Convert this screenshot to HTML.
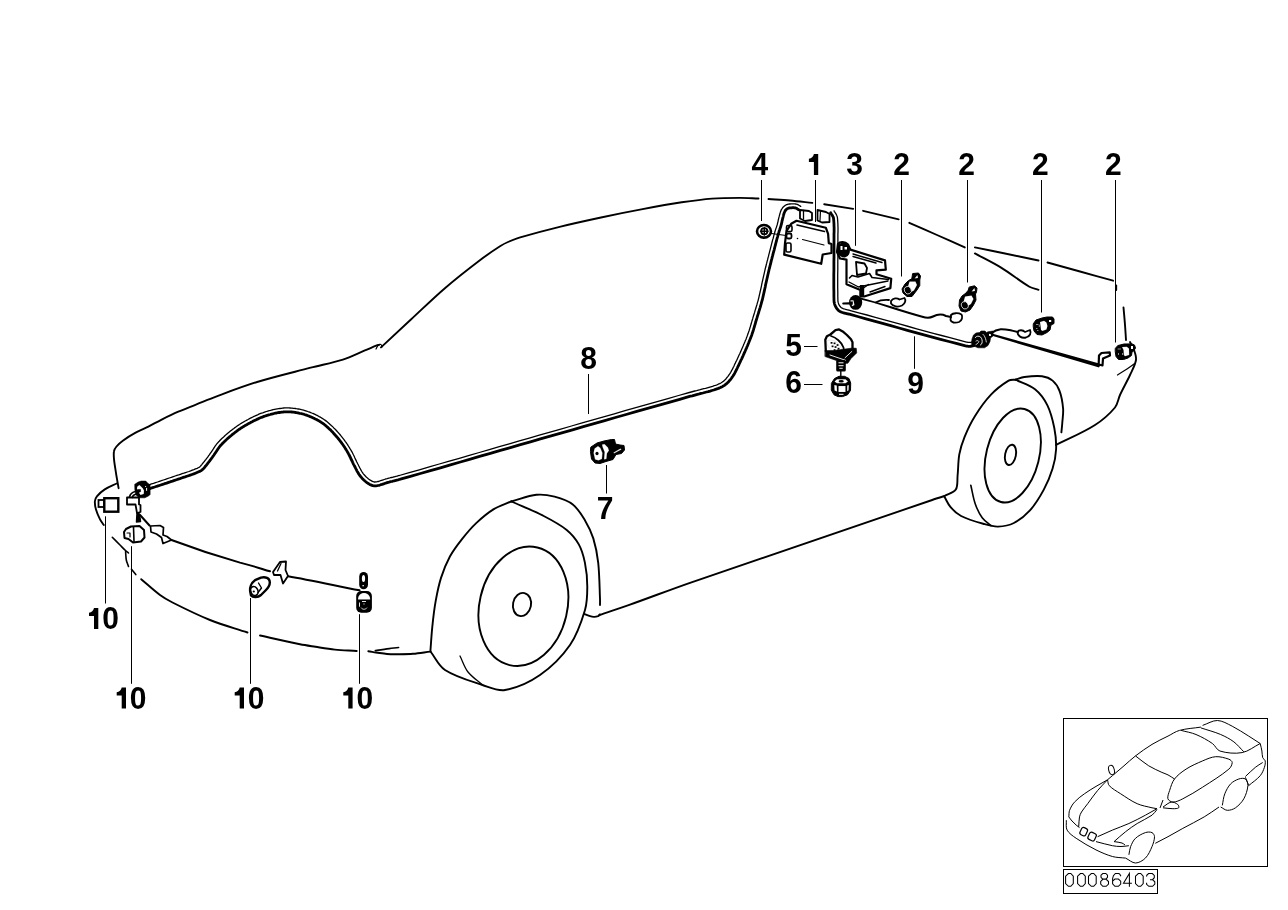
<!DOCTYPE html><html><head><meta charset="utf-8"><style>html,body{margin:0;padding:0;background:#fff;}svg{display:block;will-change:transform}</style></head><body>
<svg width="1288" height="910" viewBox="0 0 1288 910">
<rect width="1288" height="910" fill="#fff"/>
<g fill="none" stroke="#000" stroke-linecap="round" stroke-linejoin="round">
<path d="M118.6 488.2 C117.7 482.9 116.7 477.6 115.9 472.3 C115.2 467.9 114.4 463.6 114.0 459.2 C113.8 456.6 113.5 453.7 114.0 451.2 C114.3 449.5 115.4 447.8 116.5 446.5 C118.3 444.3 120.5 442.4 122.8 440.7 C126.9 437.7 131.2 435.0 135.6 432.6 C139.7 430.3 144.2 428.7 148.4 426.6 C152.7 424.4 156.9 422.0 161.2 419.8 C166.8 417.0 172.5 414.2 178.3 411.7 C183.9 409.2 189.7 407.1 195.4 404.8 C202.5 402.0 209.5 398.9 216.7 396.3 C230.1 391.3 243.4 386.2 257.1 382.0 C274.8 376.6 292.8 372.4 310.7 367.7 C321.4 364.9 332.4 362.9 342.9 359.6 C350.2 357.3 357.2 353.7 364.3 350.7 C368.5 349.0 372.6 347.1 376.8 345.4 C377.5 345.1 378.3 345.0 379.0 344.8" stroke-width="1.9"/>
<path d="M376.0 349.0 C376.7 347.8 377.1 346.3 378.0 345.5 C378.7 344.8 380.3 344.2 381.0 344.5 C381.6 344.7 381.7 346.2 382.0 347.0" stroke-width="1.2"/>
<path d="M381.0 347.4 C391.1 338.0 401.1 328.6 411.2 319.3 C422.6 308.7 433.7 297.8 445.5 287.7 C456.6 278.1 468.2 269.1 479.9 260.2 C486.4 255.3 493.2 250.7 500.0 246.3 C502.5 244.7 505.2 243.2 508.0 242.0 C512.0 240.3 516.0 238.6 520.2 237.4 C533.6 233.5 547.1 229.9 560.6 226.6 C574.0 223.3 587.5 220.4 601.0 217.5 C614.4 214.6 627.8 211.9 641.3 209.4 C654.7 206.9 668.2 204.4 681.7 202.3 C691.8 200.8 701.9 199.4 712.0 198.6 C721.3 197.9 730.7 197.9 740.0 197.9 C746.2 197.9 752.3 198.3 758.5 198.5" stroke-width="1.9"/>
<path d="M768.5 199.0 C775.7 199.5 782.8 199.9 790.0 200.5 C797.4 201.2 804.9 202.1 812.3 202.9" stroke-width="1.9"/>
<path d="M824.2 204.2 L853.2 208.9" stroke-width="1.9"/>
<path d="M863.1 210.8 L898.7 219.4" stroke-width="1.9"/>
<path d="M909.3 222.8 C918.5 226.9 927.8 230.9 937.0 235.0 C946.3 239.1 955.5 243.3 964.8 247.4" stroke-width="1.9"/>
<path d="M974.9 247.4 C984.9 249.4 995.0 251.4 1005.0 253.5 C1016.2 255.8 1027.3 258.2 1038.5 260.5" stroke-width="1.9"/>
<path d="M1047.5 262.5 C1058.3 265.5 1069.2 268.5 1080.0 271.5 C1091.0 274.6 1102.1 277.6 1113.1 280.7" stroke-width="1.9"/>
<path d="M1116.2 285.5 L1116.2 290.0" stroke-width="1.9"/>
<path d="M974.9 253.4 C983.6 258.1 992.6 262.4 1001.1 267.6 C1010.8 273.5 1019.7 281.0 1029.4 286.8 C1032.1 288.4 1035.5 288.8 1038.5 289.8" stroke-width="1.9"/>
<path d="M1123.5 307.5 C1124.0 313.3 1124.6 319.2 1125.0 325.0 C1125.4 330.0 1125.7 335.0 1126.0 340.0" stroke-width="1.9"/>
<path d="M116.7 483.5 C112.7 485.5 108.5 487.0 104.8 489.4 C101.9 491.3 99.1 493.7 96.9 496.3 C95.8 497.6 95.0 499.6 94.9 501.3 C94.7 503.9 95.2 506.7 95.9 509.2 C96.9 512.6 98.3 515.9 99.9 519.1 C100.9 521.2 102.5 523.0 103.8 525.0" stroke-width="1.9"/>
<path d="M112.3 537.3 C114.9 539.9 117.4 542.4 120.0 545.0 C121.8 546.8 123.6 548.7 125.5 550.5 C126.4 551.4 127.5 552.2 128.5 553.0" stroke-width="1.6"/>
<path d="M125.6 551.5 C125.8 554.3 125.8 557.2 126.3 560.0 C126.7 562.2 127.8 564.3 128.5 566.5" stroke-width="1.6"/>
<path d="M131.5 569.2 L135.8 574.6" stroke-width="1.6"/>
<path d="M141.2 579.2 C147.5 584.5 153.5 590.1 160.0 595.0 C163.9 597.9 168.2 600.3 172.5 602.5 C184.8 608.7 197.2 614.9 210.0 620.0 C222.2 624.9 235.0 628.3 247.5 632.5" stroke-width="1.9"/>
<path d="M260.0 635.5 C273.3 638.4 286.6 641.6 300.0 644.3 C305.1 645.3 310.3 646.0 315.5 646.8 C322.0 647.8 328.4 648.9 334.9 649.6 C342.1 650.3 349.4 650.5 356.7 651.0" stroke-width="1.9"/>
<path d="M368.3 651.2 C370.9 651.6 373.4 652.1 376.0 652.5 C379.7 653.0 383.3 653.7 387.0 654.0 C391.3 654.3 395.7 654.2 400.0 654.2 C404.3 654.2 408.7 654.2 413.0 653.8 C418.9 653.3 424.7 652.3 430.5 651.6" stroke-width="1.9"/>
<path d="M375.3 650.6 C380.0 649.9 384.6 649.2 389.3 648.6 C392.4 648.2 395.5 647.9 398.6 647.5" stroke-width="1.6"/>
<path d="M430.5 651.0 C430.5 650.6 430.5 650.1 430.5 649.7 C431.1 642.1 431.5 634.4 432.3 626.8 C433.2 618.0 434.2 609.1 435.8 600.4 C437.2 592.7 438.7 585.0 441.1 577.6 C443.4 570.4 446.3 563.2 449.9 556.5 C453.3 550.3 457.8 544.5 462.2 538.9 C466.5 533.4 471.1 527.9 476.2 523.1 C481.6 518.0 487.5 513.0 493.8 509.1 C499.2 505.8 505.5 503.9 511.3 501.3" stroke-width="1.9"/>
<path d="M511.3 501.5 C521.7 506.1 532.5 510.2 542.6 515.4 C550.9 519.7 559.5 524.1 566.7 529.9 C571.5 533.8 575.8 539.0 578.8 544.4 C581.9 549.9 583.6 556.4 584.9 562.6 C586.5 570.5 587.3 578.7 587.3 586.7 C587.3 594.5 587.2 602.6 585.0 610.0 C581.4 622.0 577.1 634.8 570.0 645.0 C562.1 656.4 551.4 667.1 540.0 675.0 C529.8 682.1 516.9 687.9 505.0 690.0 C497.8 691.3 489.8 687.4 482.5 685.0 C469.8 680.8 456.0 677.1 445.0 670.0 C438.6 665.9 435.3 657.7 430.5 651.5" stroke-width="1.9"/>
<path d="M460.0 656.0 C462.7 661.3 464.4 667.4 468.0 672.0 C471.9 677.0 477.7 680.7 482.5 685.0" stroke-width="1.3"/>
<path d="M511.3 501.5 C519.7 499.3 528.0 495.7 536.5 494.8 C542.4 494.1 548.8 495.2 554.6 496.7 C560.9 498.4 567.8 500.6 572.8 504.5 C577.9 508.4 581.5 514.6 584.9 520.2 C588.3 525.9 591.3 532.1 593.3 538.4 C595.7 546.2 597.3 554.4 598.2 562.6 C599.5 574.6 599.5 586.7 600.0 598.8 C600.1 600.9 600.0 602.9 600.0 605.0" stroke-width="1.9"/>
<path d="M584.0 613.9 C585.5 614.5 587.0 615.2 588.6 615.7 C590.3 616.2 592.1 616.8 593.8 616.9 C595.2 617.0 596.7 616.7 598.0 616.2 C598.7 615.9 599.2 615.1 599.8 614.5" stroke-width="1.9"/>
<ellipse cx="523.4" cy="606.3" rx="43.9" ry="60.4" transform="rotate(13.3 523.4 606.3)" stroke-width="1.9"/>
<ellipse cx="522" cy="604.5" rx="9" ry="11.7" transform="rotate(12 522 604.5)" stroke-width="1.9"/>
<path d="M599.5 615.0 C609.7 611.5 619.9 608.2 630.0 604.6 C650.0 597.5 669.9 589.8 690.0 582.8 C770.6 554.9 851.4 527.5 932.2 500.0 C936.3 498.6 940.5 497.3 944.6 496.0" stroke-width="1.9"/>
<path d="M944.4 496.0 C948.2 493.9 953.7 492.9 955.8 489.6 C958.1 486.0 957.1 480.2 957.6 475.5 C958.3 468.5 958.1 461.3 959.3 454.4 C960.4 448.4 962.3 442.4 964.6 436.8 C967.6 429.5 971.0 422.3 975.2 415.7 C979.8 408.3 985.0 400.9 991.0 394.6 C996.1 389.2 1002.4 384.4 1008.6 380.6 C1010.6 379.4 1013.3 380.0 1015.6 379.7" stroke-width="1.9"/>
<path d="M1015.6 379.7 C1018.5 378.8 1021.4 377.4 1024.4 377.0 C1030.2 376.2 1036.3 375.5 1042.0 376.2 C1045.7 376.7 1049.8 378.2 1052.6 380.6 C1055.7 383.2 1058.2 387.2 1059.6 391.1 C1061.7 396.6 1062.6 402.8 1063.1 408.7 C1063.5 413.4 1062.6 418.1 1062.3 422.8 C1062.1 426.0 1061.7 429.2 1061.4 432.4" stroke-width="1.9"/>
<path d="M1015.6 379.7 C1022.1 382.9 1029.5 384.9 1035.0 389.3 C1040.1 393.4 1044.4 399.3 1047.3 405.2 C1050.8 412.2 1052.7 420.2 1054.3 428.0 C1055.7 434.9 1056.4 442.2 1056.1 449.2 C1055.8 455.7 1054.5 462.3 1052.6 468.5 C1050.4 475.7 1047.4 482.9 1043.8 489.6 C1039.8 497.0 1035.3 504.5 1029.7 510.7 C1025.3 515.6 1019.7 520.1 1013.9 523.0 C1009.2 525.4 1003.3 526.4 998.0 526.6 C993.4 526.8 988.5 525.3 984.0 524.0 C976.2 521.8 968.2 519.6 961.1 516.0 C957.1 514.0 953.5 510.6 950.6 507.2 C948.0 504.2 946.5 500.2 944.4 496.7" stroke-width="1.9"/>
<path d="M970.8 485.2 C972.3 491.4 973.1 497.8 975.2 503.7 C976.9 508.6 979.2 513.6 982.2 517.8 C984.5 520.9 988.1 523.1 991.0 525.7" stroke-width="1.6"/>
<ellipse cx="1012.7" cy="455.5" rx="26.4" ry="48" transform="rotate(14.2 1012.7 455.5)" stroke-width="1.9"/>
<ellipse cx="1010.5" cy="454.9" rx="5.4" ry="10.3" transform="rotate(11 1010.5 454.9)" stroke-width="1.9"/>
<path d="M1056.0 445.0 C1069.0 438.3 1082.8 432.8 1095.0 425.0 C1102.4 420.3 1109.5 414.1 1115.0 407.5 C1117.8 404.1 1118.1 399.1 1120.0 395.0 C1123.1 388.2 1126.9 381.8 1130.0 375.0 C1132.2 370.1 1135.2 365.1 1136.0 360.0 C1136.5 356.8 1135.1 353.2 1134.0 350.0 C1133.1 347.2 1131.3 344.7 1130.0 342.0" stroke-width="1.9"/>
<path d="M1117.5 375.0 C1120.7 373.0 1123.9 371.1 1127.0 369.0 C1129.4 367.4 1131.7 365.7 1134.0 364.0" stroke-width="1.2"/>
</g>
<g fill="none" stroke="#000" stroke-linecap="round" stroke-linejoin="round">
<path d="M147.5 485.2 L149.5 484.6 L151.5 483.9 L153.5 483.3 L155.5 482.6 L157.5 482.0 L159.4 481.3 L161.4 480.7 L163.4 480.0 L165.4 479.4 L167.3 478.7 L169.3 478.0 L171.3 477.4 L173.3 476.7 L175.2 476.0 L176.9 475.4 L178.7 474.9 L180.4 474.3 L182.1 473.7 L183.8 473.2 L185.6 472.6 L187.3 472.0 L188.9 471.5 L190.6 470.9 L192.3 470.2 L193.9 469.6 L195.5 468.9 L197.1 468.3 L198.7 467.5 L199.0 467.4 L199.3 467.2 L199.6 467.0 L199.9 466.7 L200.2 466.4 L200.5 466.1 L200.8 465.8 L201.1 465.4 L201.4 465.0 L201.8 464.6 L202.1 464.2 L202.4 463.7 L202.8 463.3 L203.1 462.9 L203.7 462.2 L204.3 461.5 L204.9 460.7 L205.4 460.0 L206.0 459.3 L206.5 458.5 L207.1 457.8 L207.7 457.0 L208.2 456.3 L208.7 455.5 L209.3 454.8 L209.9 454.0 L210.4 453.2 L211.0 452.5 L211.4 451.8 L211.9 451.1 L212.4 450.4 L212.9 449.7 L213.3 449.0 L213.8 448.2 L214.3 447.5 L214.8 446.7 L215.3 445.9 L215.9 445.2 L216.4 444.4 L217.0 443.7 L217.6 443.0 L218.2 442.3 L219.2 441.3 L220.1 440.3 L221.1 439.3 L222.1 438.3 L223.1 437.4 L224.1 436.5 L225.1 435.5 L226.2 434.6 L227.2 433.7 L228.3 432.8 L229.3 432.0 L230.4 431.1 L231.5 430.2 L232.5 429.4 L233.5 428.7 L234.5 427.9 L235.5 427.2 L236.5 426.5 L237.5 425.8 L238.5 425.1 L239.5 424.5 L240.5 423.8 L241.6 423.1 L242.6 422.5 L243.7 421.9 L244.7 421.3 L245.8 420.7 L246.9 420.1 L248.0 419.5 L249.2 418.8 L250.4 418.2 L251.6 417.6 L252.8 417.0 L254.0 416.4 L255.2 415.9 L256.4 415.3 L257.6 414.8 L258.9 414.2 L260.1 413.7 L261.4 413.2 L262.7 412.8 L263.9 412.3 L265.2 411.9 L266.5 411.5 L267.8 411.1 L269.2 410.7 L270.5 410.4 L271.8 410.0 L273.2 409.7 L274.5 409.4 L275.9 409.1 L277.2 408.9 L278.6 408.7 L279.9 408.5 L281.3 408.3 L282.6 408.1 L283.7 408.0 L284.8 407.9 L285.8 407.9 L286.9 407.9 L287.9 407.9 L289.0 407.9 L290.1 408.0 L291.1 408.1 L292.2 408.1 L293.2 408.3 L294.2 408.4 L295.3 408.5 L296.3 408.7 L297.3 408.8 L298.3 409.0 L299.4 409.2 L300.4 409.4 L301.5 409.7 L302.5 409.9 L303.6 410.2 L304.6 410.5 L305.7 410.8 L306.7 411.1 L307.7 411.5 L308.7 411.8 L309.7 412.2 L310.7 412.6 L311.7 413.0 L312.8 413.4 L313.9 413.9 L315.0 414.4 L316.0 414.9 L317.1 415.4 L318.2 416.0 L319.2 416.6 L320.3 417.1 L321.3 417.7 L322.3 418.4 L323.3 419.0 L324.3 419.7 L325.3 420.4 L326.3 421.1 L327.4 422.0 L328.5 422.9 L329.6 423.9 L330.7 424.9 L331.8 425.9 L332.8 426.9 L333.8 427.9 L334.9 428.9 L335.9 430.0 L336.8 431.0 L337.8 432.1 L338.8 433.2 L339.7 434.3 L340.6 435.3 L341.4 436.3 L342.2 437.3 L343.0 438.3 L343.8 439.3 L344.5 440.3 L345.2 441.3 L346.0 442.3 L346.7 443.4 L347.4 444.4 L348.0 445.4 L348.7 446.5 L349.4 447.6 L350.0 448.6 L350.7 449.7 L351.2 450.7 L351.8 451.7 L352.4 452.7 L352.9 453.7 L353.4 454.8 L353.9 455.8 L354.4 456.8 L354.8 457.8 L355.3 458.9 L355.8 459.9 L356.3 460.9 L356.7 461.8 L357.2 462.8 L357.7 463.8 L358.1 464.5 L358.5 465.2 L358.8 466.0 L359.2 466.7 L359.6 467.4 L359.9 468.1 L360.3 468.8 L360.7 469.5 L361.0 470.2 L361.4 470.8 L361.8 471.5 L362.2 472.1 L362.6 472.7 L363.0 473.3 L363.4 473.8 L363.8 474.3 L364.2 474.8 L364.7 475.3 L365.1 475.8 L365.6 476.3 L366.0 476.7 L366.5 477.2 L367.0 477.6 L367.5 478.1 L368.0 478.5 L368.5 478.9 L369.0 479.3 L369.5 479.6 L369.9 479.9 L370.3 480.2 L370.7 480.4 L371.2 480.7 L371.6 480.9 L372.0 481.2 L372.4 481.4 L372.9 481.5 L373.3 481.7 L373.7 481.8 L374.0 481.9 L374.4 482.0 L374.7 482.0 L375.0 482.0 L375.7 481.9 L376.5 481.8 L377.3 481.7 L378.1 481.5 L378.9 481.3 L379.7 481.0 L380.6 480.7 L381.5 480.4 L382.4 480.1 L383.3 479.8 L384.2 479.5 L385.2 479.2 L386.1 478.9 L387.1 478.6 L388.0 478.3 L388.9 478.1 L389.8 477.9 L390.6 477.7 L391.5 477.5 L392.4 477.3 L393.3 477.0 L394.2 476.8 L395.0 476.6 L395.9 476.4 L396.8 476.2 L397.6 476.0 L398.5 475.7 L399.3 475.5 L409.3 472.6 L419.3 469.8 L429.3 466.9 L439.3 464.0 L449.3 461.1 L459.3 458.3 L469.3 455.4 L479.3 452.5 L489.3 449.6 L499.3 446.7 L509.3 443.8 L519.3 440.9 L529.3 438.1 L539.3 435.2 L550.1 432.1 L560.8 429.1 L571.5 426.0 L582.2 422.9 L592.9 419.9 L603.6 416.8 L614.3 413.8 L625.0 410.7 L635.8 407.7 L646.5 404.6 L657.2 401.6 L667.9 398.6 L678.6 395.5 L689.3 392.5 L691.2 392.0 L693.0 391.5 L694.8 391.0 L696.6 390.6 L698.4 390.1 L700.2 389.7 L702.0 389.2 L703.7 388.7 L705.5 388.3 L707.3 387.8 L709.0 387.3 L710.8 386.8 L712.5 386.3 L714.3 385.7 L714.9 385.5 L715.6 385.3 L716.3 385.0 L717.0 384.8 L717.6 384.5 L718.3 384.2 L718.9 383.9 L719.6 383.6 L720.2 383.3 L720.8 383.0 L721.3 382.7 L721.9 382.3 L722.4 382.0 L722.9 381.6 L723.5 381.2 L724.0 380.7 L724.5 380.2 L725.1 379.7 L725.6 379.2 L726.1 378.7 L726.5 378.1 L727.0 377.5 L727.5 376.9 L728.0 376.4 L728.4 375.7 L728.8 375.1 L729.3 374.5 L729.7 373.9 L730.2 373.1 L730.7 372.3 L731.2 371.4 L731.6 370.6 L732.1 369.7 L732.6 368.9 L733.0 368.0 L733.4 367.1 L733.9 366.2 L734.3 365.3 L734.7 364.3 L735.2 363.4 L735.6 362.5 L736.0 361.6 L736.6 360.5 L737.1 359.4 L737.6 358.3 L738.1 357.2 L738.6 356.1 L739.1 355.0 L739.7 353.8 L740.2 352.7 L740.7 351.6 L741.1 350.5 L741.6 349.4 L742.1 348.3 L742.6 347.2 L743.1 346.1 L743.5 345.1 L743.9 344.1 L744.3 343.2 L744.7 342.2 L745.1 341.3 L745.5 340.3 L745.9 339.4 L746.3 338.4 L746.6 337.4 L747.0 336.5 L747.4 335.5 L747.7 334.5 L748.1 333.6 L748.4 332.6 L748.7 331.7 L749.0 330.9 L749.3 330.0 L749.6 329.1 L749.8 328.3 L750.1 327.4 L750.4 326.5 L750.6 325.6 L750.9 324.7 L751.2 323.8 L751.4 322.9 L751.7 322.0 L751.9 321.1 L752.2 320.2 L752.7 318.7 L753.1 317.1 L753.6 315.5 L754.1 314.0 L754.6 312.4 L755.0 310.9 L755.5 309.3 L756.0 307.8 L756.4 306.2 L756.9 304.7 L757.3 303.1 L757.8 301.6 L758.2 300.1 L758.6 298.5 L759.0 296.8 L759.4 295.0 L759.8 293.3 L760.2 291.5 L760.6 289.8 L761.0 288.0 L761.4 286.3 L761.7 284.5 L762.1 282.7 L762.5 281.0 L762.9 279.2 L763.3 277.4 L763.7 275.6 L764.1 273.8 L764.5 272.1 L764.9 270.3 L765.3 268.5 L765.8 266.8 L766.2 265.0 L766.7 263.2 L767.1 261.4 L767.6 259.7 L768.0 257.9 L768.5 256.2 L768.9 254.4 L769.4 252.6 L769.8 250.9 L770.3 249.1 L770.6 247.9 L770.9 246.7 L771.2 245.6 L771.5 244.4 L771.8 243.2 L772.1 242.0 L772.4 240.8 L772.7 239.6 L773.1 238.5 L773.4 237.3 L773.7 236.1 L774.0 234.9 L774.4 233.7 L774.7 232.5 L774.9 231.9 L775.1 231.3 L775.2 230.7 L775.4 230.1 L775.6 229.5 L775.8 228.9 L776.0 228.3 L776.2 227.8 L776.4 227.2 L776.6 226.6 L776.8 226.0 L777.0 225.5 L777.1 224.9 L777.3 224.4 L777.4 223.8 L777.6 223.3 L777.7 222.7 L777.8 222.2 L778.0 221.6 L778.1 221.1 L778.2 220.5 L778.3 219.9 L778.5 219.3 L778.6 218.7 L778.7 218.2 L778.9 217.6 L779.0 217.0 L779.2 216.4 L779.3 215.9 L779.4 215.5 L779.5 215.0 L779.7 214.6 L779.8 214.1 L779.9 213.6 L780.0 213.2 L780.2 212.7 L780.3 212.2 L780.5 211.7 L780.7 211.2 L780.9 210.7 L781.1 210.2 L781.4 209.7 L781.6 209.3 L781.8 209.0 L782.0 208.6 L782.2 208.3 L782.5 208.0 L782.7 207.6 L783.0 207.3 L783.3 207.0 L783.6 206.7 L783.9 206.4 L784.2 206.2 L784.5 205.9 L784.8 205.7 L785.2 205.4 L785.5 205.2 L785.8 205.0 L786.2 204.8 L786.5 204.7 L786.9 204.6 L787.2 204.5 L787.6 204.4 L787.9 204.3 L788.2 204.2 L788.6 204.2 L788.9 204.1 L789.5 204.0 L790.2 204.0 L790.7 203.9 L791.1 203.9 L791.6 203.9 L792.1 203.8 L792.5 203.8 L793.0 203.8 L793.5 203.8 L794.0 203.8 L794.5 203.9 L795.0 203.9 L795.5 204.0 L796.0 204.1 L796.5 204.2 L797.0 204.3 L797.4 204.4 L797.8 204.6 L798.2 204.8 L798.5 205.0 L798.8 205.2 L799.1 205.4 L799.4 205.5 L799.7 205.7 L799.9 205.9 L800.1 206.0 L800.3 206.2 L800.5 206.3 L800.7 206.4" stroke-width="1.3"/>
<path d="M148.8 488.9 L150.7 488.3 L152.7 487.6 L154.7 487.0 L156.7 486.3 L158.7 485.7 L160.7 485.0 L162.6 484.4 L164.6 483.7 L166.6 483.1 L168.6 482.4 L170.6 481.7 L172.5 481.1 L174.5 480.4 L176.5 479.7 L178.2 479.1 L179.9 478.6 L181.6 478.0 L183.3 477.4 L185.1 476.9 L186.8 476.3 L188.5 475.7 L190.2 475.1 L192.0 474.5 L193.7 473.9 L195.4 473.2 L197.0 472.5 L198.7 471.8 L200.3 471.1 L200.9 470.8 L201.5 470.4 L202.0 470.0 L202.4 469.6 L202.9 469.2 L203.3 468.8 L203.7 468.4 L204.1 467.9 L204.5 467.5 L204.8 467.0 L205.2 466.6 L205.5 466.2 L205.8 465.8 L206.2 465.4 L206.8 464.6 L207.4 463.9 L207.9 463.1 L208.5 462.4 L209.1 461.6 L209.7 460.9 L210.2 460.1 L210.8 459.3 L211.4 458.6 L211.9 457.8 L212.5 457.1 L213.0 456.3 L213.6 455.5 L214.1 454.8 L214.6 454.0 L215.1 453.3 L215.6 452.6 L216.1 451.8 L216.6 451.1 L217.1 450.3 L217.6 449.6 L218.0 448.9 L218.5 448.2 L219.0 447.5 L219.5 446.8 L220.0 446.2 L220.6 445.5 L221.1 444.9 L222.0 444.0 L222.9 443.0 L223.9 442.1 L224.8 441.2 L225.8 440.2 L226.8 439.3 L227.7 438.4 L228.7 437.6 L229.8 436.7 L230.8 435.8 L231.8 435.0 L232.8 434.1 L233.9 433.3 L234.9 432.5 L235.8 431.8 L236.8 431.1 L237.7 430.4 L238.7 429.7 L239.7 429.0 L240.6 428.4 L241.6 427.7 L242.6 427.1 L243.6 426.5 L244.6 425.9 L245.6 425.3 L246.7 424.7 L247.7 424.1 L248.7 423.5 L249.9 422.9 L251.0 422.3 L252.2 421.7 L253.3 421.1 L254.5 420.5 L255.7 419.9 L256.8 419.4 L258.0 418.9 L259.2 418.3 L260.4 417.8 L261.6 417.3 L262.8 416.9 L264.0 416.4 L265.2 416.0 L266.4 415.6 L267.7 415.2 L268.9 414.8 L270.2 414.5 L271.5 414.1 L272.8 413.8 L274.0 413.5 L275.3 413.2 L276.6 413.0 L277.9 412.7 L279.2 412.5 L280.5 412.3 L281.8 412.1 L283.1 412.0 L284.0 411.9 L285.0 411.8 L285.9 411.8 L286.9 411.8 L287.9 411.8 L288.8 411.8 L289.8 411.9 L290.8 411.9 L291.8 412.0 L292.8 412.1 L293.7 412.2 L294.7 412.4 L295.7 412.5 L296.6 412.7 L297.6 412.9 L298.6 413.0 L299.6 413.3 L300.6 413.5 L301.6 413.7 L302.6 414.0 L303.6 414.2 L304.5 414.5 L305.5 414.8 L306.5 415.1 L307.4 415.5 L308.4 415.8 L309.3 416.2 L310.2 416.6 L311.2 417.0 L312.3 417.5 L313.3 418.0 L314.3 418.4 L315.3 418.9 L316.4 419.4 L317.3 420.0 L318.3 420.5 L319.3 421.1 L320.3 421.7 L321.2 422.3 L322.1 422.9 L323.0 423.5 L323.9 424.2 L324.9 425.0 L326.0 425.9 L327.0 426.8 L328.1 427.7 L329.1 428.7 L330.1 429.6 L331.1 430.6 L332.0 431.6 L333.0 432.6 L334.0 433.7 L334.9 434.7 L335.8 435.8 L336.7 436.8 L337.7 437.9 L338.4 438.8 L339.2 439.7 L339.9 440.7 L340.6 441.6 L341.4 442.6 L342.1 443.6 L342.8 444.5 L343.4 445.5 L344.1 446.5 L344.8 447.6 L345.4 448.6 L346.1 449.6 L346.7 450.6 L347.3 451.7 L347.9 452.6 L348.4 453.6 L348.9 454.5 L349.4 455.5 L349.9 456.5 L350.4 457.5 L350.8 458.5 L351.3 459.5 L351.8 460.5 L352.3 461.5 L352.7 462.5 L353.2 463.6 L353.7 464.6 L354.3 465.6 L354.6 466.3 L355.0 467.0 L355.4 467.7 L355.7 468.4 L356.1 469.2 L356.5 469.9 L356.8 470.6 L357.2 471.4 L357.6 472.1 L358.1 472.8 L358.5 473.5 L358.9 474.2 L359.4 474.9 L359.9 475.6 L360.3 476.2 L360.8 476.8 L361.3 477.3 L361.8 477.9 L362.2 478.4 L362.8 479.0 L363.3 479.5 L363.8 480.0 L364.4 480.5 L364.9 481.0 L365.5 481.5 L366.1 482.0 L366.6 482.4 L367.2 482.8 L367.7 483.1 L368.2 483.5 L368.7 483.8 L369.2 484.1 L369.7 484.4 L370.3 484.7 L370.9 484.9 L371.4 485.2 L372.0 485.4 L372.6 485.6 L373.2 485.7 L373.9 485.8 L374.5 485.9 L375.2 485.9 L376.1 485.8 L377.1 485.7 L378.1 485.5 L379.0 485.3 L380.0 485.0 L380.9 484.7 L381.9 484.4 L382.8 484.1 L383.7 483.8 L384.6 483.5 L385.5 483.2 L386.4 482.9 L387.2 482.6 L388.1 482.3 L389.0 482.1 L389.8 481.9 L390.7 481.7 L391.6 481.5 L392.4 481.3 L393.3 481.0 L394.2 480.8 L395.1 480.6 L396.0 480.4 L396.9 480.2 L397.8 480.0 L398.6 479.7 L399.5 479.5 L400.4 479.2 L410.4 476.4 L420.4 473.5 L430.4 470.6 L440.4 467.8 L450.4 464.9 L460.4 462.0 L470.4 459.1 L480.4 456.2 L490.4 453.3 L500.4 450.4 L510.4 447.6 L520.4 444.7 L530.4 441.8 L540.4 438.9 L551.1 435.9 L561.8 432.8 L572.5 429.8 L583.3 426.7 L594.0 423.6 L604.7 420.6 L615.4 417.5 L626.1 414.5 L636.8 411.4 L647.5 408.4 L658.3 405.4 L669.0 402.3 L679.7 399.3 L690.4 396.2 L692.2 395.8 L694.0 395.3 L695.7 394.8 L697.5 394.3 L699.3 393.9 L701.1 393.4 L702.9 393.0 L704.7 392.5 L706.5 392.0 L708.3 391.6 L710.1 391.1 L711.9 390.5 L713.7 390.0 L715.5 389.4 L716.2 389.2 L716.9 388.9 L717.6 388.7 L718.4 388.4 L719.1 388.1 L719.8 387.8 L720.5 387.5 L721.3 387.1 L722.0 386.8 L722.7 386.4 L723.3 386.0 L724.0 385.6 L724.7 385.2 L725.3 384.7 L726.0 384.2 L726.6 383.6 L727.2 383.1 L727.8 382.5 L728.4 381.9 L729.0 381.3 L729.5 380.6 L730.0 380.0 L730.6 379.4 L731.1 378.7 L731.6 378.0 L732.0 377.4 L732.5 376.7 L733.0 376.0 L733.5 375.1 L734.1 374.3 L734.6 373.4 L735.1 372.4 L735.6 371.5 L736.0 370.6 L736.5 369.7 L736.9 368.8 L737.4 367.8 L737.8 366.9 L738.3 366.0 L738.7 365.1 L739.1 364.2 L739.6 363.2 L740.1 362.1 L740.6 361.0 L741.1 359.9 L741.7 358.8 L742.2 357.7 L742.7 356.6 L743.2 355.5 L743.7 354.3 L744.2 353.2 L744.7 352.1 L745.2 351.0 L745.7 349.8 L746.2 348.7 L746.7 347.6 L747.1 346.6 L747.5 345.7 L747.9 344.7 L748.3 343.7 L748.7 342.8 L749.1 341.8 L749.5 340.8 L749.9 339.8 L750.3 338.8 L750.7 337.9 L751.0 336.9 L751.4 335.9 L751.8 334.9 L752.1 333.9 L752.4 333.0 L752.7 332.1 L753.0 331.2 L753.3 330.3 L753.6 329.4 L753.8 328.5 L754.1 327.6 L754.4 326.7 L754.6 325.8 L754.9 324.9 L755.2 324.0 L755.4 323.1 L755.7 322.2 L755.9 321.3 L756.4 319.8 L756.9 318.2 L757.3 316.7 L757.8 315.1 L758.3 313.6 L758.8 312.0 L759.2 310.5 L759.7 308.9 L760.2 307.3 L760.6 305.8 L761.1 304.2 L761.5 302.6 L761.9 301.1 L762.4 299.5 L762.8 297.7 L763.2 295.9 L763.6 294.2 L764.0 292.4 L764.4 290.6 L764.8 288.8 L765.2 287.1 L765.5 285.3 L765.9 283.5 L766.3 281.8 L766.7 280.0 L767.1 278.2 L767.5 276.5 L767.9 274.7 L768.3 273.0 L768.7 271.2 L769.1 269.5 L769.6 267.7 L770.0 265.9 L770.5 264.2 L770.9 262.4 L771.3 260.6 L771.8 258.9 L772.2 257.1 L772.7 255.4 L773.1 253.6 L773.6 251.8 L774.1 250.1 L774.4 248.9 L774.7 247.7 L775.0 246.5 L775.3 245.4 L775.6 244.2 L775.9 243.0 L776.2 241.8 L776.5 240.6 L776.8 239.5 L777.1 238.3 L777.5 237.1 L777.8 235.9 L778.1 234.8 L778.4 233.6 L778.6 233.0 L778.8 232.5 L779.0 231.9 L779.1 231.3 L779.3 230.7 L779.5 230.2 L779.7 229.6 L779.9 229.0 L780.1 228.4 L780.3 227.8 L780.5 227.2 L780.7 226.6 L780.9 226.0 L781.0 225.4 L781.2 224.8 L781.4 224.2 L781.5 223.6 L781.6 223.1 L781.8 222.5 L781.9 221.9 L782.0 221.3 L782.1 220.7 L782.3 220.2 L782.4 219.6 L782.5 219.1 L782.7 218.5 L782.8 217.9 L782.9 217.4 L783.1 216.9 L783.2 216.5 L783.3 216.0 L783.4 215.6 L783.5 215.1 L783.7 214.7 L783.8 214.2 L783.9 213.8 L784.0 213.4 L784.2 213.0 L784.3 212.6 L784.5 212.2 L784.7 211.8 L784.8 211.5 L785.0 211.3 L785.1 211.0 L785.2 210.8 L785.4 210.6 L785.6 210.3 L785.7 210.1 L785.9 209.9 L786.1 209.7 L786.3 209.5 L786.5 209.3 L786.7 209.1 L786.9 208.9 L787.1 208.8 L787.3 208.6 L787.5 208.6 L787.6 208.5 L787.8 208.4 L787.9 208.3 L788.1 208.3 L788.3 208.2 L788.5 208.2 L788.7 208.1 L789.0 208.1 L789.2 208.0 L789.4 208.0 L789.9 207.9 L790.6 207.9 L791.0 207.8 L791.4 207.8 L791.8 207.8 L792.2 207.7 L792.6 207.7 L793.0 207.7 L793.4 207.7 L793.8 207.7 L794.2 207.8 L794.6 207.8 L795.0 207.8 L795.3 207.9 L795.7 208.0 L795.8 208.0 L796.0 208.1 L796.2 208.1 L796.3 208.2 L796.5 208.3 L796.7 208.5 L797.0 208.6 L797.2 208.8 L797.4 208.9 L797.7 209.1 L797.9 209.3 L798.2 209.4 L798.5 209.6 L798.7 209.8" stroke-width="2.8"/>
<path d="M834.1 210.9 L834.3 211.3 L834.5 211.6 L834.8 212.0 L835.0 212.4 L835.3 212.8 L835.5 213.2 L835.8 213.7 L836.1 214.2 L836.4 214.7 L836.6 215.2 L836.9 215.8 L837.1 216.4 L837.3 217.0 L837.4 217.7 L837.6 219.3 L837.7 220.9 L837.8 222.5 L837.9 224.1 L837.9 225.7 L838.0 227.3 L838.0 228.9 L838.0 230.5 L838.0 232.1 L837.9 233.7 L837.9 235.3 L837.9 236.9 L837.9 238.4 L837.9 240.0 L837.9 244.3 L837.9 248.7 L837.9 253.0 L837.9 257.3 L837.8 261.6 L837.8 266.0 L837.8 270.3 L837.7 274.6 L837.7 278.9 L837.7 283.2 L837.7 287.5 L837.8 291.9 L837.8 296.2 L837.9 300.4 L837.9 300.8 L837.9 301.1 L838.0 301.4 L838.0 301.7 L838.1 302.0 L838.2 302.4 L838.3 302.7 L838.3 303.0 L838.5 303.3 L838.6 303.7 L838.7 304.0 L838.8 304.3 L839.0 304.6 L839.1 304.9 L839.3 305.2 L839.4 305.5 L839.6 305.7 L839.8 306.0 L840.0 306.3 L840.2 306.5 L840.4 306.8 L840.6 307.0 L840.8 307.2 L841.0 307.4 L841.2 307.6 L841.4 307.8 L841.5 307.9 L841.7 308.0 L842.2 308.2 L842.7 308.4 L843.2 308.6 L843.8 308.8 L844.4 309.0 L845.0 309.2 L845.6 309.3 L846.3 309.5 L847.0 309.7 L847.6 309.8 L848.3 310.0 L849.0 310.1 L849.7 310.3 L850.4 310.5 L858.7 312.8 L867.0 315.0 L875.3 317.3 L883.6 319.6 L891.9 321.9 L900.2 324.2 L908.5 326.5 L916.7 328.8 L925.0 331.1 L933.3 333.3 L941.6 335.5 L949.9 337.7 L958.2 339.9 L966.5 342.1 L966.9 342.2 L967.3 342.2 L967.7 342.3 L968.1 342.4 L968.5 342.4 L968.9 342.4 L969.3 342.4 L969.7 342.4 L970.1 342.4 L970.4 342.4 L970.8 342.3 L971.1 342.3 L971.5 342.2 L971.8 342.1 L971.9 342.1 L972.0 342.0 L972.1 342.0 L972.2 341.8 L972.4 341.7 L972.6 341.5 L972.8 341.3 L973.1 341.0 L973.3 340.8 L973.6 340.5 L973.9 340.2 L974.2 339.9 L974.5 339.6 L974.8 339.3" stroke-width="1.3"/>
<path d="M830.7 212.7 L830.9 213.1 L831.2 213.6 L831.4 214.1 L831.7 214.5 L832.0 214.9 L832.2 215.3 L832.5 215.7 L832.7 216.1 L832.9 216.5 L833.1 216.8 L833.2 217.2 L833.4 217.5 L833.5 217.9 L833.5 218.2 L833.7 219.7 L833.8 221.2 L833.9 222.7 L834.0 224.3 L834.0 225.8 L834.1 227.4 L834.1 228.9 L834.1 230.5 L834.1 232.1 L834.0 233.7 L834.0 235.3 L834.0 236.8 L834.0 238.4 L834.0 240.0 L834.0 244.3 L834.0 248.6 L834.0 253.0 L834.0 257.3 L833.9 261.6 L833.9 265.9 L833.9 270.3 L833.8 274.6 L833.8 278.9 L833.8 283.2 L833.8 287.6 L833.9 291.9 L833.9 296.2 L834.0 300.5 L834.0 301.0 L834.1 301.5 L834.1 301.9 L834.2 302.4 L834.3 302.8 L834.4 303.3 L834.5 303.8 L834.6 304.2 L834.8 304.6 L834.9 305.1 L835.1 305.5 L835.3 305.9 L835.5 306.3 L835.7 306.7 L835.9 307.1 L836.1 307.4 L836.3 307.8 L836.6 308.2 L836.8 308.6 L837.1 308.9 L837.4 309.3 L837.7 309.6 L838.0 310.0 L838.3 310.3 L838.7 310.6 L839.1 310.9 L839.5 311.2 L839.9 311.4 L840.6 311.8 L841.2 312.0 L841.9 312.3 L842.6 312.5 L843.3 312.8 L844.0 313.0 L844.7 313.1 L845.4 313.3 L846.1 313.5 L846.8 313.6 L847.4 313.8 L848.1 313.9 L848.8 314.1 L849.4 314.2 L857.7 316.5 L866.0 318.8 L874.3 321.1 L882.6 323.4 L890.8 325.7 L899.1 328.0 L907.4 330.3 L915.7 332.6 L924.0 334.8 L932.3 337.1 L940.6 339.3 L948.9 341.5 L957.2 343.7 L965.5 345.9 L966.0 346.0 L966.6 346.1 L967.1 346.2 L967.6 346.2 L968.2 346.3 L968.7 346.3 L969.2 346.3 L969.8 346.3 L970.3 346.3 L970.9 346.3 L971.4 346.2 L971.9 346.1 L972.4 346.0 L973.0 345.8 L973.4 345.7 L973.9 345.4 L974.3 345.2 L974.6 344.9 L975.0 344.6 L975.3 344.3 L975.6 344.0 L975.9 343.7 L976.2 343.5 L976.4 343.2 L976.7 342.9 L976.9 342.7 L977.1 342.4 L977.4 342.2" stroke-width="2.8"/>
</g>
<path d="M134.9 484.2 L138.2 482.1 L141.2 481.1 L145.8 481.1 L148.1 483.6 L150.1 484.9 L150.1 494.5 L148.8 495.8 L144.8 497.8 L139.2 497.8 L135.9 494.8 L134.9 489.9 Z" fill="#000" stroke="#000" stroke-width="0.6" stroke-linejoin="round" stroke-linecap="round"/>
<path d="M137.5 486.2 L139.5 484.9 L142.8 488.2 L144 490.5 L143.8 494.1 L140.5 495.1 L138.9 492.8 L140.8 491.8 L140.8 489.2 L138.2 489.2 L137.2 489.5 L136.9 488.2 Z" fill="#fff" stroke="#000" stroke-width="0.1" stroke-linejoin="round" stroke-linecap="round"/>
<rect x="146.1" y="487.9" width="1" height="2.9" fill="#fff"/>
<rect x="145.1" y="486.1" width="1" height="0.9" fill="#fff"/>
<path d="M135.5 491.5 C133 492 130.5 493.5 129.6 496.5" fill="none" stroke="#000" stroke-width="1.7" stroke-linejoin="round" stroke-linecap="round"/>
<path d="M136.2 494 C134.2 494.6 132.6 495.5 132.2 497.5" fill="none" stroke="#000" stroke-width="1.5" stroke-linejoin="round" stroke-linecap="round"/>
<rect x="104.3" y="498.2" width="14" height="13.5" fill="none" stroke="#000" stroke-width="2.4"/>
<rect x="98.5" y="500" width="5.5" height="7" fill="none" stroke="#000" stroke-width="1.8"/>
<path d="M127 497.5 L139 497.5 L139 504.5 L140.5 505 L140.5 512 L137 513 L135.5 504.5 L127 504.5 Z" fill="none" stroke="#000" stroke-width="1.8" stroke-linejoin="round" stroke-linecap="round"/>
<path d="M137 513.5 L136.5 522 L140.5 521.5 L139.5 514 Z" fill="#000" stroke="#000" stroke-width="1.5" stroke-linejoin="round" stroke-linecap="round"/>
<path d="M140 515 L149.5 525.5" fill="none" stroke="#000" stroke-width="2" stroke-linejoin="round" stroke-linecap="round"/>
<path d="M150.5 526 L160 525.5 L163.5 527.5 L163 535 L167 536.5 L171.5 540 L163 543.5 L161.5 537.5 L156.5 534 L151 532 Z" fill="none" stroke="#000" stroke-width="1.7" stroke-linejoin="round" stroke-linecap="round"/>
<path d="M171.5 540 C190 547 215 555.5 240 562.6 C255 566.5 262 569 270 571.3" fill="none" stroke="#000" stroke-width="2" stroke-linejoin="round" stroke-linecap="round"/>
<path d="M273 572 L280 562 L286 561.5 L285.5 570 L288 576 L283 583.5 L280.5 575 L274 575 Z" fill="none" stroke="#000" stroke-width="1.8" stroke-linejoin="round" stroke-linecap="round"/>
<path d="M281 563.5 L277.5 571" fill="none" stroke="#000" stroke-width="1.3" stroke-linejoin="round" stroke-linecap="round"/>
<path d="M288 576.2 C310 580 335 585.5 359.6 590.3" fill="none" stroke="#000" stroke-width="2" stroke-linejoin="round" stroke-linecap="round"/>
<path d="M126 529 L131 526.5 L139.5 526 L144 530 L144.5 537.5 L141 541.5 L133 542.5 L128.5 539 L124.5 538 L124 532 Z" fill="none" stroke="#000" stroke-width="2" stroke-linejoin="round" stroke-linecap="round"/>
<path d="M133.5 527 L134 541.5" fill="none" stroke="#000" stroke-width="1.6" stroke-linejoin="round" stroke-linecap="round"/>
<path d="M127 533 L130 533 L130 537" fill="none" stroke="#000" stroke-width="1.2" stroke-linejoin="round" stroke-linecap="round"/>
<path d="M250.3 592 C249.5 588 251 583 255 580.2 L261 577.6 C265.5 576.6 269.5 578 269.8 582 C270 585 268 588 265.5 590.5 L261 595 C258 597.5 253 597.8 251 595.5 Z" fill="none" stroke="#000" stroke-width="2.4" stroke-linejoin="round" stroke-linecap="round"/>
<ellipse cx="254.3" cy="591" rx="3.6" ry="4.6" transform="rotate(-25 254.3 591)" fill="none" stroke="#000" stroke-width="1.6"/>
<path d="M258.5 583 L261.5 588 L258 592.5" fill="none" stroke="#000" stroke-width="1.4" stroke-linejoin="round" stroke-linecap="round"/>
<circle cx="253.8" cy="591.5" r="1.1" fill="#000"/>
<rect x="359.2" y="572" width="8.8" height="17.2" rx="4.4" fill="#000"/>
<ellipse cx="363.5" cy="578.5" rx="1.6" ry="3.6" fill="#fff"/>
<rect x="362.5" y="585" width="1.3" height="1.3" fill="#fff"/>
<rect x="356.2" y="591" width="15.7" height="21.7" rx="5" fill="#000"/>
<path d="M358 599.5 C358 595.5 360.5 593 364 593 C367.5 593 370.2 595.5 370.2 599.5 Z" fill="#fff" stroke="#000" stroke-width="0.1" stroke-linejoin="round" stroke-linecap="round"/>
<rect x="362" y="601" width="4" height="0.9" fill="#fff"/>
<rect x="359" y="602.5" width="0.9" height="4.2" fill="#fff"/>
<path d="M361.3 608 C362.5 609.8 365.5 609.8 366.8 608" fill="none" stroke="#fff" stroke-width="0.8" stroke-linejoin="round" stroke-linecap="round"/>
<rect x="363.5" y="603.5" width="1" height="1" fill="#fff"/>
<path d="M591 447 L597 443 L604 441 L611.5 439.5 L614.5 439.5 L615.5 444 L620 445 L624 445.5 L624.5 450 L621.5 453.5 L616 454.5 L613 459.5 L606 461.5 L600 463.5 L595 463 L591.5 459 L590.5 452 Z" fill="#000" stroke="#000" stroke-width="1" stroke-linejoin="round" stroke-linecap="round"/>
<path d="M594.5 448.5 L598 446 L600.5 448 L602.5 453 L602 459 L598.5 460.5 L595 459.5 L593.5 453 Z" fill="#fff" stroke="#000" stroke-width="0.2" stroke-linejoin="round" stroke-linecap="round"/>
<ellipse cx="597" cy="453.5" rx="1.6" ry="1.8" fill="#000"/>
<path d="M602 444.5 L604.5 444 L608 447.5 L609 450.5 L607 453.5 L606.5 459 L604 459.5 L604.5 452 L602.5 447 Z" fill="#fff" stroke="#000" stroke-width="0.2" stroke-linejoin="round" stroke-linecap="round"/>
<path d="M613.5 452.5 L620.5 448.5 L621.5 449.5 L614 453.5 Z" fill="#fff" stroke="#000" stroke-width="0.2" stroke-linejoin="round" stroke-linecap="round"/>
<path d="M825.8 351 L825.3 339.8 L826.9 336.2 L830.4 334.5 L835.5 330.2 L839.1 329.4 L842.7 331.4 L846.9 335 L851 339.2 L852.5 342.2 L852.5 348.5" fill="#fff" stroke="#000" stroke-width="2.3" stroke-linejoin="round" stroke-linecap="round"/>
<path d="M831 336 C836 337.5 841.5 342 843.5 347.5 L844 351.5" fill="none" stroke="#000" stroke-width="1.8" stroke-linejoin="round" stroke-linecap="round"/>
<path d="M827 341 C830 339 834 340 838 343.5 C841 346.5 842.5 350 842 352.5 L836 352.5 C832 351 828 347.5 827 344 Z" fill="#fff" stroke="#000" stroke-width="0.1" stroke-linejoin="round" stroke-linecap="round"/>
<rect x="830.6" y="342.0" width="1.9" height="1.7" fill="#000"/>
<rect x="833.6" y="342.5" width="1.9" height="1.7" fill="#000"/>
<rect x="836.6" y="344.2" width="1.9" height="1.7" fill="#000"/>
<rect x="831.6" y="345.5" width="1.9" height="1.7" fill="#000"/>
<rect x="834.6" y="346.2" width="1.9" height="1.7" fill="#000"/>
<rect x="837.6" y="347.8" width="1.9" height="1.7" fill="#000"/>
<rect x="833.6" y="349.2" width="1.9" height="1.7" fill="#000"/>
<rect x="836.9" y="349.7" width="1.9" height="1.7" fill="#000"/>
<path d="M825.2 350.6 L834 350.6 L852.6 348 L856.3 348.3 L856.7 352.9 L851 358.6 L847.9 363.2 L844 363.6 L835.5 360.2 L825.2 356.6 Z" fill="#000" stroke="#000" stroke-width="0.6" stroke-linejoin="round" stroke-linecap="round"/>
<path d="M830 355 L845.5 360.3 M845 357.8 L851.8 351.5" fill="none" stroke="#fff" stroke-width="0.9" stroke-linejoin="round" stroke-linecap="round"/>
<rect x="836.2" y="360" width="9.6" height="11.5" rx="1.5" fill="#000"/>
<rect x="838.5" y="362.3" width="5" height="1" fill="#fff"/>
<rect x="838.5" y="365.2" width="5" height="1" fill="#fff"/>
<rect x="839.3" y="367.8" width="3.4" height="0.9" fill="#fff"/>
<path d="M840.8 371 L840.8 376.5" fill="none" stroke="#000" stroke-width="1.4" stroke-linejoin="round" stroke-linecap="round"/>
<path d="M831.6 383 L834.5 378.5 L839 376.3 L844.5 376.3 L849 378.5 L850.7 383 L850.5 390.5 L847.5 394.8 L842.5 396.6 L838 396.6 L834 394.8 L831.5 390.5 Z" fill="#000" stroke="#000" stroke-width="1" stroke-linejoin="round" stroke-linecap="round"/>
<path d="M834.5 381.5 L837 379.2 L845.5 379.2 L848 381.5 L845.5 383.2 L837 383.2 Z" fill="#fff" stroke="#000" stroke-width="0.1" stroke-linejoin="round" stroke-linecap="round"/>
<ellipse cx="841.2" cy="381.2" rx="2.6" ry="1.2" fill="#000"/>
<path d="M834.3 385 L836.8 385.5 L837 391.5 L834.5 390.5 Z" fill="#fff" stroke="#000" stroke-width="0.1" stroke-linejoin="round" stroke-linecap="round"/>
<path d="M838.5 386 L845.5 386 L845.5 392 L838.5 392 Z" fill="#fff" stroke="#000" stroke-width="0.1" stroke-linejoin="round" stroke-linecap="round"/>
<path d="M847.2 385.5 L848.8 385 L848.6 390.3 L847.2 391.3 Z" fill="#fff" stroke="#000" stroke-width="0.1" stroke-linejoin="round" stroke-linecap="round"/>
<rect x="839" y="393.8" width="4.5" height="1" fill="#fff"/>
<ellipse cx="764" cy="231.3" rx="7" ry="6.3" fill="none" stroke="#000" stroke-width="2.6"/>
<circle cx="764.3" cy="231.3" r="3.1" fill="none" stroke="#000" stroke-width="1.8"/>
<path d="M760.5 231.3 L768 231.3 M764.3 227.8 L764.3 235" fill="none" stroke="#000" stroke-width="1.5" stroke-linejoin="round" stroke-linecap="round"/>
<path d="M771.5 233.5 L786 235.5" fill="none" stroke="#000" stroke-width="1.2" stroke-linejoin="round" stroke-linecap="round"/>
<path d="M791.2 223.8 L796.5 220.8 L825.8 227.7 L828.1 233.8 L828.8 243.1 L831.5 244 L831.5 253 L822.7 254.5 L821.2 263.8 L784.2 254.6 L785 243.1 L786.5 230.8 Z" fill="none" stroke="#000" stroke-width="2.2" stroke-linejoin="round" stroke-linecap="round"/>
<path d="M797 225 L824.5 231.5" fill="none" stroke="#000" stroke-width="1.6" stroke-linejoin="round" stroke-linecap="round"/>
<rect x="786.5" y="225.5" width="5.5" height="6" rx="1.5" fill="none" stroke="#000" stroke-width="1.6"/>
<rect x="786.5" y="233.5" width="5" height="5" rx="1.5" fill="none" stroke="#000" stroke-width="1.8"/>
<rect x="786" y="243" width="5" height="9" rx="1.5" fill="none" stroke="#000" stroke-width="1.6"/>
<path d="M802.5 239.5 L824 245" fill="none" stroke="#000" stroke-width="1.1" stroke-linejoin="round" stroke-linecap="round"/>
<circle cx="797.5" cy="238.5" r="0.8" fill="#000"/>
<path d="M800 210 L809 211 L812 213 L812 220 L805 221 L800 218.5 Z" fill="none" stroke="#000" stroke-width="1.8" stroke-linejoin="round" stroke-linecap="round"/>
<path d="M803.5 210.5 L803.5 219" fill="none" stroke="#000" stroke-width="1.3" stroke-linejoin="round" stroke-linecap="round"/>
<path d="M817.5 210 L826 212 L829.5 214 L829.5 222 L822 222.5 L817.5 220.5 Z" fill="none" stroke="#000" stroke-width="1.8" stroke-linejoin="round" stroke-linecap="round"/>
<path d="M820.5 210.5 L820 220.5" fill="none" stroke="#000" stroke-width="1.2" stroke-linejoin="round" stroke-linecap="round"/>
<path d="M838 244 C840 241.5 845 241.5 848 244.5 L850.4 249.6 L885 260.4 L885.8 269.6 L876.5 270.4 L876.5 274.2 L891.2 278.8 L890.4 288.1 L871.2 294.2 L864.2 296.5 L860.4 296.5 L860.4 290 L846.5 284.2 L846.5 259.6 L840 258.5 L837 252 Z" fill="none" stroke="#000" stroke-width="2.2" stroke-linejoin="round" stroke-linecap="round"/>
<path d="M853 254 L882 262.5 M853 256.5 L876 263" fill="none" stroke="#000" stroke-width="1.4" stroke-linejoin="round" stroke-linecap="round"/>
<path d="M856 262 L864.5 263.5 L867 268 L866 273.5 L857 275 Z" fill="none" stroke="#000" stroke-width="1.8" stroke-linejoin="round" stroke-linecap="round"/>
<path d="M849.5 278 L852 275.5 L858 277 L869.5 273.5 L872 277.5 L888.5 279.5" fill="none" stroke="#000" stroke-width="1.6" stroke-linejoin="round" stroke-linecap="round"/>
<path d="M849 282 L858.5 287 L888 281" fill="none" stroke="#000" stroke-width="1.4" stroke-linejoin="round" stroke-linecap="round"/>
<path d="M862 289 L868.5 284.5 M870 292 L885 286.5" fill="none" stroke="#000" stroke-width="1.4" stroke-linejoin="round" stroke-linecap="round"/>
<ellipse cx="843.5" cy="250" rx="6.3" ry="7.6" transform="rotate(-15 843.5 250)" fill="#000"/>
<rect x="840.5" y="246" width="2" height="4" fill="#fff"/>
<rect x="844.5" y="247" width="2.5" height="2.5" fill="#fff"/>
<ellipse cx="855.6" cy="302.4" rx="6.6" ry="7.4" fill="#000"/>
<path d="M853.5 300.2 L850.5 300.2 L850.5 301.5 L852.8 301.5 L852.8 304.5 L851.5 305 L852.5 306.3 L854.5 305 Z" fill="#fff" stroke="#000" stroke-width="0.1" stroke-linejoin="round" stroke-linecap="round"/>
<rect x="859.9" y="285" width="4.3" height="11.5" fill="#000"/>
<path d="M843.3 303.5 L849.5 303.3" fill="none" stroke="#000" stroke-width="2.2" stroke-linejoin="round" stroke-linecap="round"/>
<path d="M861 298.6 C880 303 900 311 922.3 316.7 C926 318 929 318.7 933 316.5 C937 314.5 942 314 946 316 L951 317" fill="none" stroke="#000" stroke-width="2" stroke-linejoin="round" stroke-linecap="round"/>
<path d="M876 302.2 C880 300 884 299.6 889 300" fill="none" stroke="#000" stroke-width="1.8" stroke-linejoin="round" stroke-linecap="round"/>
<path d="M891 301 C893 298 897 297.5 899.5 299.5 L904.5 298 C906 300 905.5 303.5 902 305.5 C898 307.5 893 306.5 891 303.5 Z" fill="none" stroke="#000" stroke-width="1.8" stroke-linejoin="round" stroke-linecap="round"/>
<path d="M951 315 C953 313 958 312.5 961.5 314.5 C963 317 962 320.5 959 322 C955 323.5 951 322.5 950.5 320 Z" fill="none" stroke="#000" stroke-width="1.8" stroke-linejoin="round" stroke-linecap="round"/>
<path d="M913 273.5 L918.5 273 L920.5 276 L919.8 280 L919.8 285.5 L917 290 L912 296.5 L907 296.5 L903 293 L902 289 L905 284 L908.5 280.5 L911.5 279 Z" fill="#000" stroke="#000" stroke-width="1" stroke-linejoin="round" stroke-linecap="round"/>
<path d="M909.5 281.5 L915.5 281.5 L917 285 L914 290.5 L911 292 L907.5 288 Z" fill="#fff" stroke="#000" stroke-width="0.1" stroke-linejoin="round" stroke-linecap="round"/>
<ellipse cx="907.8" cy="290.2" rx="3.4" ry="3.9" transform="rotate(-30 907.8 290.2)" fill="#000" stroke="#fff" stroke-width="0.7"/>
<path d="M914.5 278.5 L917.5 275 L918 278 Z" fill="#fff" stroke="#000" stroke-width="0.1" stroke-linejoin="round" stroke-linecap="round"/>
<path d="M969.5 287 L974.5 285.8 L977 288 L976.5 292 L975.5 294 L976 300 L973.5 305 L970 310 L965.5 312 L961 311 L959 306 L959.5 300 L962 296 L966 293 L968 290.5 Z" fill="#000" stroke="#000" stroke-width="1" stroke-linejoin="round" stroke-linecap="round"/>
<path d="M965 296.5 L971.5 295.5 L973.5 299 L971 304 L968 306 L963.5 302 Z" fill="#fff" stroke="#000" stroke-width="0.1" stroke-linejoin="round" stroke-linecap="round"/>
<ellipse cx="964.8" cy="305.3" rx="3.3" ry="3.8" transform="rotate(-25 964.8 305.3)" fill="#000" stroke="#fff" stroke-width="0.7"/>
<path d="M971.5 291.5 L974.5 288 L975 291 Z" fill="#fff" stroke="#000" stroke-width="0.1" stroke-linejoin="round" stroke-linecap="round"/>
<path d="M972 339 L973.5 335 L976 333 L979.5 332.5 L981 331 L985 331 L986.5 332.5 L988 331.8 L993 331 L993 336 L990.5 338 L990 341.5 L988 345.5 L984.5 347.8 L978 347.8 L975 346.5 L971.5 345.5 Z" fill="#000" stroke="#000" stroke-width="0.6" stroke-linejoin="round" stroke-linecap="round"/>
<path d="M975.3 337.5 C976.5 335.8 979 335.8 980.5 337 C982 338.5 982.5 341 982 343 C981.6 344.2 981 344.8 980.5 345" fill="none" stroke="#fff" stroke-width="0.9" stroke-linejoin="round" stroke-linecap="round"/>
<path d="M976 341 C977 340.3 978.3 340.5 978.8 341.5 C978.5 342.8 977.5 343.8 976 344.5" fill="none" stroke="#fff" stroke-width="0.8" stroke-linejoin="round" stroke-linecap="round"/>
<path d="M983 334.3 C984.5 335.5 985.5 338 986 340.5 L986.3 342" fill="none" stroke="#fff" stroke-width="0.8" stroke-linejoin="round" stroke-linecap="round"/>
<rect x="989" y="333.9" width="2" height="2" fill="#fff"/>
<path d="M992.4 334.8 L1098.6 366.3 L1099 355.5 L1101.5 353 L1109.7 352.3 L1110 355.5 L1103 358.5 L1102.5 365.5 Z" fill="none" stroke="#000" stroke-width="2.2" stroke-linejoin="round" stroke-linecap="round"/>
<path d="M991 333.4 C994 331 997 329.5 1000.7 329.2 C1005 329 1009 330 1012 330.6 L1018 332" fill="none" stroke="#000" stroke-width="2" stroke-linejoin="round" stroke-linecap="round"/>
<path d="M1017.5 332 C1019 329.5 1023 329.8 1025 332 L1030 330 C1031.5 333 1030 336.5 1026 337.5 C1021.5 338.5 1017.5 336 1017.5 332 Z" fill="none" stroke="#000" stroke-width="1.8" stroke-linejoin="round" stroke-linecap="round"/>
<path d="M1033.5 323.5 L1036 320 L1042 318 L1047 317 L1052.5 317 L1054 319 L1054 323.5 L1051 325 L1050 330 L1047 332.5 L1042 335 L1037 334.5 L1034 331 L1033.3 327 Z" fill="#000" stroke="#000" stroke-width="1" stroke-linejoin="round" stroke-linecap="round"/>
<path d="M1040 322 L1044 320.8 L1046.5 322.5 L1047.5 326 L1046.5 329.5 L1042.5 331 L1041 330 Z" fill="#fff" stroke="#000" stroke-width="0.1" stroke-linejoin="round" stroke-linecap="round"/>
<rect x="1049" y="320" width="2.2" height="2" fill="#fff"/>
<path d="M1036.5 324.5 L1038 324.5 M1039.3 325 L1039.3 326.5 M1036.5 328.5 L1037 328.5 M1037.5 330.5 L1038 330.5" fill="none" stroke="#fff" stroke-width="0.6" stroke-linejoin="round" stroke-linecap="round"/>
<path d="M1115.5 348 L1118 345.5 L1124 344 L1132 343.9 L1134.5 345 L1135.5 348 L1134 350.5 L1132 352 L1131.5 355.5 L1128 358 L1123.5 359.5 L1118.5 359.5 L1116 356.5 L1115.3 352 Z" fill="#000" stroke="#000" stroke-width="1" stroke-linejoin="round" stroke-linecap="round"/>
<path d="M1122 347 L1126.8 346.8 L1129 348.5 L1129.2 355 L1125 356.2 L1123.8 355 L1123.5 350 Z" fill="#fff" stroke="#000" stroke-width="0.1" stroke-linejoin="round" stroke-linecap="round"/>
<rect x="1131" y="346" width="2" height="3" fill="#fff"/>
<path d="M1118 349 L1120.5 349 M1118.5 353.5 L1118.5 354.5 M1122.5 353.5 L1122.5 354.5" fill="none" stroke="#fff" stroke-width="0.6" stroke-linejoin="round" stroke-linecap="round"/>
<g stroke="#000" stroke-width="1">
<line x1="761.5" y1="180" x2="761.5" y2="221"/>
<line x1="815.5" y1="180" x2="815.5" y2="222"/>
<line x1="855.5" y1="180" x2="855.5" y2="245.8"/>
<line x1="901.5" y1="180" x2="901.5" y2="276.5"/>
<line x1="967.5" y1="180" x2="967.5" y2="282.5"/>
<line x1="1041.5" y1="180" x2="1041.5" y2="312.5"/>
<line x1="1115.5" y1="180" x2="1115.5" y2="342.5"/>
<line x1="588.5" y1="374" x2="588.5" y2="414"/>
<line x1="606.5" y1="465" x2="606.5" y2="493.5"/>
<line x1="914.5" y1="336.3" x2="914.5" y2="368.8"/>
<line x1="804" y1="346.5" x2="817.5" y2="346.5"/>
<line x1="804" y1="384.5" x2="822.5" y2="384.5"/>
<line x1="105.5" y1="516.3" x2="105.5" y2="603.5"/>
<line x1="131.5" y1="546.2" x2="131.5" y2="683.8"/>
<line x1="250.5" y1="598" x2="250.5" y2="683.8"/>
<line x1="359.5" y1="614.2" x2="359.5" y2="683.8"/>
</g>
<g font-family="Liberation Sans, sans-serif" font-weight="bold" font-size="30" text-anchor="middle" fill="#000">
<text transform="translate(759.9 175) scale(1 1.03)">4</text>
<text transform="translate(854.6 175) scale(1 1.03)">3</text>
<text transform="translate(901.65 175) scale(1 1.03)">2</text>
<text transform="translate(966.55 175) scale(1 1.03)">2</text>
<text transform="translate(1040.25 175) scale(1 1.03)">2</text>
<text transform="translate(1113.4 175) scale(1 1.03)">2</text>
<text transform="translate(588.5 369) scale(1 1.03)">8</text>
<text transform="translate(793.65 356) scale(1 1.03)">5</text>
<text transform="translate(793.65 393) scale(1 1.03)">6</text>
<text transform="translate(915.5 394) scale(1 1.03)">9</text>
<text transform="translate(605 519) scale(1 1.03)">7</text>
<text transform="translate(110.5 629) scale(1 1.03)">0</text>
<text transform="translate(138.2 708.5) scale(1 1.03)">0</text>
<text transform="translate(256.2 708.5) scale(1 1.03)">0</text>
<text transform="translate(364.8 708.5) scale(1 1.03)">0</text>
</g>
<path d="M813.9 154.0 L818.2 154.0 L818.2 175.0 L813.9 175.0 L813.9 162.0 L808.9 162.0 L808.9 158.8 C811.4 158.4 813.4 156.5 813.9 154.0 Z" fill="#000"/>
<path d="M94.0 608.0 L98.3 608.0 L98.3 629.0 L94.0 629.0 L94.0 616.0 L89.0 616.0 L89.0 612.8 C91.5 612.4 93.5 610.5 94.0 608.0 Z" fill="#000"/>
<path d="M121.7 687.5 L126.0 687.5 L126.0 708.5 L121.7 708.5 L121.7 695.5 L116.7 695.5 L116.7 692.3 C119.2 691.9 121.2 690.0 121.7 687.5 Z" fill="#000"/>
<path d="M239.7 687.5 L244.0 687.5 L244.0 708.5 L239.7 708.5 L239.7 695.5 L234.7 695.5 L234.7 692.3 C237.2 691.9 239.2 690.0 239.7 687.5 Z" fill="#000"/>
<path d="M348.3 687.5 L352.6 687.5 L352.6 708.5 L348.3 708.5 L348.3 695.5 L343.3 695.5 L343.3 692.3 C345.8 691.9 347.8 690.0 348.3 687.5 Z" fill="#000"/>
<g fill="none" stroke="#000" stroke-width="1" stroke-linejoin="round">
<path d="M1107.5 779.8 C1109.1 778.4 1110.8 777.1 1112.4 775.7 C1116.3 772.4 1120.1 769.1 1124.0 765.8 C1127.8 762.5 1131.5 759.0 1135.5 755.9 C1140.8 751.8 1146.3 747.9 1152.0 744.4 C1157.1 741.3 1162.6 738.8 1168.0 736.1 C1171.8 734.2 1175.4 731.5 1179.5 730.4 C1186.4 728.5 1193.8 728.2 1200.9 727.1"/>
<path d="M1107.5 779.8 C1103.7 782.0 1099.8 784.1 1096.0 786.4 C1092.1 788.8 1088.1 791.1 1084.4 793.8 C1080.9 796.3 1077.3 798.9 1074.5 802.1 C1072.4 804.4 1070.7 807.4 1069.6 810.3 C1068.8 812.3 1069.1 814.7 1068.8 816.9"/>
<path d="M1068.8 816.9 C1069.9 818.3 1070.8 819.7 1072.0 821.0 C1073.3 822.4 1074.7 823.8 1076.2 825.1 C1077.2 826.0 1078.4 826.8 1079.5 827.6"/>
<path d="M1107.5 779.8 C1104.2 783.4 1100.7 786.8 1097.6 790.5 C1094.1 794.7 1091.0 799.3 1087.7 803.7 C1085.6 806.5 1083.3 809.1 1081.5 812.0 C1080.6 813.5 1079.8 815.2 1079.5 816.9 C1078.9 820.1 1079.0 823.5 1078.7 826.8"/>
<path d="M1107.5 779.8 C1108.1 781.7 1107.9 784.2 1109.2 785.6 C1112.3 788.9 1116.7 791.2 1120.7 793.8 C1126.1 797.3 1131.4 801.1 1137.2 803.7 C1141.8 805.8 1147.0 806.5 1152.0 807.8 C1153.6 808.2 1155.3 808.4 1157.0 808.7"/>
<path d="M1135.5 755.9 C1139.9 759.2 1144.1 762.9 1148.7 765.8 C1152.9 768.4 1157.5 770.3 1161.9 772.4 C1163.9 773.3 1166.1 773.9 1168.0 774.9 C1170.3 776.1 1172.3 777.6 1174.5 779.0"/>
<ellipse cx="1111.5" cy="770" rx="2.8" ry="4.8" transform="rotate(-15 1111.5 770)" stroke-width="1"/>
<path d="M1157.0 808.7 C1153.1 810.9 1149.3 813.1 1145.4 815.2 C1140.0 818.1 1134.5 821.0 1128.9 823.5 C1123.5 825.9 1117.9 827.8 1112.4 830.1 C1107.4 832.2 1102.5 834.5 1097.6 836.7"/>
<path d="M1157.0 809.5 C1155.3 811.4 1154.0 813.8 1152.0 815.2 C1147.4 818.4 1142.0 820.5 1137.2 823.5 C1133.2 826.0 1129.3 828.8 1125.6 831.7 C1121.6 834.8 1117.9 838.3 1114.1 841.6"/>
<path d="M1066.3 820.2 C1066.6 823.5 1065.6 827.4 1067.1 830.1 C1068.9 833.4 1072.8 836.0 1076.2 838.3 C1082.5 842.6 1089.2 846.5 1096.0 849.9 C1101.3 852.5 1106.8 854.9 1112.4 856.5 C1116.6 857.7 1121.2 857.6 1125.6 858.1"/>
<path d="M1096.0 841.6 C1101.5 843.0 1106.9 844.6 1112.4 845.7 C1115.2 846.3 1118.1 846.5 1121.0 846.5 C1123.6 846.5 1126.3 846.0 1128.9 845.7"/>
<path d="M1114.0 841.6 C1116.7 842.1 1119.5 842.2 1122.0 843.0 C1123.1 843.3 1124.0 844.3 1125.0 845.0"/>
<path d="M1125.6 858.1 C1128.9 859.7 1132.2 863.0 1135.5 863.0 C1138.8 863.0 1142.9 860.6 1145.4 858.1 C1148.4 855.1 1150.3 850.6 1152.0 846.6 C1153.3 843.5 1154.5 839.9 1154.5 836.7 C1154.5 835.2 1153.3 833.2 1152.0 832.6 C1150.2 831.8 1147.4 831.9 1145.4 832.6 C1141.9 833.8 1138.2 835.8 1135.5 838.3 C1133.2 840.4 1131.8 843.7 1130.6 846.6 C1129.6 849.2 1129.5 852.1 1128.9 854.8"/>
<path d="M1155.3 843.3 C1159.5 841.1 1163.8 839.0 1168.0 836.7 C1173.0 834.0 1177.8 831.1 1182.8 828.4 C1189.9 824.5 1197.2 821.0 1204.2 816.9 C1209.3 813.9 1214.1 810.3 1219.0 807.0"/>
<path d="M1202.6 725.4 C1207.5 723.8 1212.5 720.4 1217.4 720.5 C1222.4 720.6 1227.5 723.9 1232.2 726.2 C1237.9 729.1 1243.2 732.7 1248.7 736.1 C1252.6 738.5 1256.4 741.0 1260.2 743.5"/>
<path d="M1181.1 730.4 C1186.1 731.8 1191.3 732.5 1196.0 734.5 C1201.7 736.9 1207.3 740.0 1212.4 743.5 C1215.3 745.5 1216.7 750.0 1219.9 751.0 C1226.6 753.1 1235.1 753.9 1242.1 752.6 C1248.5 751.4 1254.2 746.5 1260.2 743.5"/>
<path d="M1200.9 727.9 C1207.5 730.1 1214.3 731.8 1220.7 734.5 C1225.3 736.5 1229.9 738.9 1233.9 741.9 C1237.6 744.7 1240.5 748.5 1243.8 751.8"/>
<path d="M1260.2 743.5 C1260.8 746.0 1261.5 748.5 1261.9 751.0 C1262.3 753.2 1262.0 755.6 1262.7 757.6 C1263.1 758.9 1265.0 759.6 1265.2 760.9 C1265.5 762.9 1265.1 765.4 1264.4 767.4 C1263.4 770.3 1262.2 773.4 1260.2 775.7 C1257.0 779.5 1252.5 782.3 1248.7 785.6"/>
<path d="M1262.7 762.5 C1260.2 764.1 1257.6 765.5 1255.3 767.4 C1251.8 770.2 1248.7 773.5 1245.4 776.5"/>
<path d="M1174.5 779.0 C1172.0 782.2 1170.9 786.6 1169.6 790.5 C1168.7 793.2 1167.3 796.5 1167.9 798.8 C1168.4 800.4 1171.1 802.1 1172.9 802.1 C1176.1 802.1 1179.7 800.4 1182.8 798.8 C1189.6 795.4 1196.2 791.3 1202.6 787.2 C1211.5 781.4 1220.9 775.8 1228.9 769.1 C1230.8 767.6 1232.2 764.5 1232.2 762.5 C1232.2 761.2 1230.3 759.7 1228.9 759.2 C1224.8 757.8 1220.0 756.4 1215.7 756.7 C1211.3 757.0 1206.8 759.1 1202.6 760.9 C1197.0 763.3 1191.2 765.8 1186.1 769.1 C1181.9 771.8 1177.5 775.1 1174.5 779.0Z"/>
<path d="M1163.0 807.0 C1165.7 805.4 1168.4 802.6 1171.2 802.1 C1173.3 801.7 1176.1 803.2 1177.8 804.5 C1178.6 805.1 1179.3 807.3 1178.7 807.8 C1177.7 808.7 1174.8 808.7 1172.9 808.7 C1169.6 808.7 1166.3 808.1 1163.0 807.8"/>
<path d="M1160.0 808.0 L1163.0 800.0"/>
<path d="M1220.7 807.0 C1222.9 808.1 1225.0 810.2 1227.3 810.3 C1230.0 810.4 1233.2 809.4 1235.5 807.8 C1238.7 805.5 1241.9 802.3 1243.8 798.8 C1246.0 794.9 1247.5 790.0 1247.9 785.6 C1248.1 783.4 1247.0 780.1 1245.4 779.0 C1243.9 777.9 1240.8 778.3 1238.8 779.0 C1235.9 780.0 1232.7 781.7 1230.6 783.9 C1228.1 786.6 1226.2 790.3 1224.8 793.8 C1223.4 797.4 1223.1 801.5 1222.3 805.4"/>
<path d="M1245.4 777.3 L1248.7 785.6"/>
<rect x="1082.5" y="826.8" width="6.3" height="7.8" rx="2" transform="rotate(25 1082.5 826.8)" stroke-width="1.2"/>
<rect x="1090.5" y="831.5" width="7.2" height="7.8" rx="2" transform="rotate(25 1090.5 831.5)" stroke-width="1.2"/>
</g>
<rect x="1063.5" y="718.5" width="204" height="148" fill="none" stroke="#000" stroke-width="1" shape-rendering="crispEdges"/>
<rect x="1063.5" y="869.5" width="94" height="24" fill="none" stroke="#000" stroke-width="1" shape-rendering="crispEdges"/>
<g fill="none" stroke="#000" stroke-width="1.05" stroke-linejoin="miter">
<path transform="translate(1065.6 873.5)" d="M2.8 0 L5.2 0 L7.7 2.7 L7.7 10.1 L5.2 12.8 L2.8 12.8 L0 10.1 L0 2.7 Z"/>
<path transform="translate(1077.6 873.5)" d="M2.8 0 L5.2 0 L7.7 2.7 L7.7 10.1 L5.2 12.8 L2.8 12.8 L0 10.1 L0 2.7 Z"/>
<path transform="translate(1088.5 873.5)" d="M2.8 0 L5.2 0 L7.7 2.7 L7.7 10.1 L5.2 12.8 L2.8 12.8 L0 10.1 L0 2.7 Z"/>
<path transform="translate(1100.5 873.5)" d="M2.3 0 L5.3 0 L7 1.7 L7 3.8 L5.3 5.6 L2.3 5.6 L0.5 3.8 L0.5 1.7 Z M2.3 5.8 L5.7 5.8 L8 8 L8 10.6 L5.7 12.8 L2.3 12.8 L0.2 10.6 L0.2 8 Z"/>
<path transform="translate(1112.4 873.5)" d="M8.5 2.8 L7.5 0.8 L6.5 0 L3 0 L1 2.2 L0.2 5 L0.2 10.3 L2.5 12.8 L6 12.8 L8.3 10.5 L8.3 7.7 L6 5.5 L2.5 5.5 L0.2 7.7"/>
<path transform="translate(1123.5 873.5)" d="M5.9 13.3 L5.9 0 L0 9.8 L8.4 9.8"/>
<path transform="translate(1135.5 873.5)" d="M2.8 0 L5.2 0 L7.7 2.7 L7.7 10.1 L5.2 12.8 L2.8 12.8 L0 10.1 L0 2.7 Z"/>
<path transform="translate(1146.3 873.5)" d="M0.2 3 L0.6 1.5 L2.3 0 L6 0 L8 1.9 L8 4.2 L6.2 6.2 L3.7 6.2 M6.2 6.2 L8.5 8.3 L8.5 10.6 L6.3 12.8 L2.5 12.8 L0.3 10.8 L0.3 9.3"/>
</g>
</svg></body></html>
